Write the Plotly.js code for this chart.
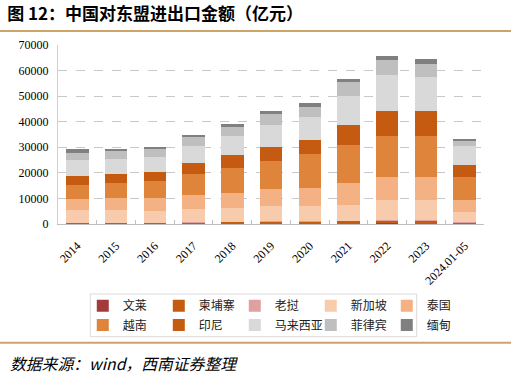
<!DOCTYPE html>
<html>
<head>
<meta charset="utf-8">
<script src="https://cdn.plot.ly/plotly-3.0.1.min.js"></script>
<style>html,body{margin:0;padding:0;background:#fff;}#chart{width:511px;height:377px;}</style>
</head>
<body>
<div id="chart"></div>
<script>
var years = ['2014','2015','2016','2017','2018','2019','2020','2021','2022','2023','2024.01-05'];
var brunei      = [120, 95, 50, 70, 125, 75, 130, 180, 210, 180, 90];
var cambodia    = [230, 275, 320, 390, 490, 650, 660, 880, 1080, 1040, 480];
var laos        = [220, 175, 155, 205, 230, 270, 250, 280, 380, 490, 230];
var singapore   = [4890, 4950, 4680, 5350, 5480, 6210, 6150, 6060, 7750, 7640, 3900];
var thailand    = [4460, 4700, 5030, 5410, 5800, 6330, 6800, 8460, 9090, 8900, 4700];
var vietnam     = [5140, 5980, 6520, 8190, 9790, 11180, 13270, 14850, 15810, 16190, 8900];
var indonesia   = [3900, 3380, 3550, 4270, 5120, 5510, 5410, 8020, 10060, 9830, 4700];
var malaysia    = [6260, 6060, 5770, 6490, 7190, 8560, 9050, 11400, 13700, 13400, 7400];
var philippines = [2730, 2840, 3140, 3460, 3690, 4210, 4220, 5290, 5900, 5070, 2200];
var myanmar     = [1530, 950, 820, 910, 1010, 1290, 1300, 1200, 1700, 1630, 800];

var series = [
  {name:'文莱', y:brunei, color:'#A33B3B', legend:'legend'},
  {name:'柬埔寨', y:cambodia, color:'#C55A11', legend:'legend'},
  {name:'老挝', y:laos, color:'#E0A0A0', legend:'legend'},
  {name:'新加坡', y:singapore, color:'#F8CBAD', legend:'legend'},
  {name:'泰国', y:thailand, color:'#F4B183', legend:'legend'},
  {name:'越南', y:vietnam, color:'#DE853B', legend:'legend2'},
  {name:'印尼', y:indonesia, color:'#C55A11', legend:'legend2'},
  {name:'马来西亚', y:malaysia, color:'#D9D9D9', legend:'legend2'},
  {name:'菲律宾', y:philippines, color:'#BFBFBF', legend:'legend2'},
  {name:'缅甸', y:myanmar, color:'#808080', legend:'legend2'}
];

var traces = series.map(function(s){
  return {type:'bar', name:s.name, x:years, y:s.y, legend:s.legend,
    marker:{color:s.color, line:{width:0}}, hoverinfo:'name+y'};
});

var cjk = '"Noto Sans CJK SC", sans-serif';
var serif = '"Liberation Serif", "Times New Roman", serif';
var legendCommon = {orientation:'h', xref:'container', yref:'container', xanchor:'left', yanchor:'middle',
  x:0.162, font:{family:cjk, size:12, color:'#222'}, bgcolor:'rgba(0,0,0,0)', borderwidth:0,
  traceorder:'normal', entrywidth:31, entrywidthmode:'pixels', itemclick:false, itemdoubleclick:false};

var layout = {
  width:511, height:377,
  margin:{l:57.6, r:26.6, t:45, b:153},
  paper_bgcolor:'#fff', plot_bgcolor:'#fff',
  barmode:'stack', bargap:0.42,
  showlegend:true,
  title:{text:'图 12：中国对东盟进出口金额（亿元）', font:{family:cjk, size:17, color:'#000', weight:'bold'},
    xref:'container', yref:'container', x:0.014, xanchor:'left', y:1-14/377, yanchor:'middle'},
  xaxis:{type:'category', tickangle:-45, tickfont:{family:serif, size:12, color:'#000'},
    showline:true, linecolor:'#BFBFBF', linewidth:1, ticks:'inside', tickson:'boundaries', ticklen:4,
    tickcolor:'#BFBFBF', showgrid:false, fixedrange:true, ticklabelstandoff:9},
  yaxis:{range:[0,70000], dtick:10000, tickformat:'d', tickfont:{family:serif, size:12, color:'#000'},
    showline:true, linecolor:'#D0D0D0', linewidth:1, showgrid:true, gridcolor:'#C8C8C8', griddash:'dash',
    gridwidth:1, zeroline:false, ticks:'', ticklabelstandoff:6, fixedrange:true},
  legend: Object.assign({}, legendCommon, {y:(377-305.7)/377}),
  legend2: Object.assign({}, legendCommon, {y:(377-325)/377}),
  shapes:[
    {type:'line', xref:'paper', yref:'paper', x0:-0.14, x1:1.07, y0:(224-31)/179, y1:(224-31)/179,
      line:{color:'#CDA468', width:2}},
    {type:'line', xref:'paper', yref:'paper', x0:-0.14, x1:1.07, y0:(224-342.7)/179, y1:(224-342.7)/179,
      line:{color:'#CDA468', width:2}},
    {type:'rect', xref:'paper', yref:'paper', x0:(90-57.6)/426.8, x1:(417-57.6)/426.8,
      y0:(224-294)/179, y1:(224-336.7)/179, line:{color:'#DADADA', width:1}}
  ],
  annotations:[
    {text:'数据来源：wind，西南证券整理', xref:'paper', yref:'paper', x:(8-57.6)/426.8, xanchor:'left',
      y:(224-363)/179, yanchor:'middle', showarrow:false,
      font:{family:cjk, size:15.8, color:'#000', style:'italic'}}
  ]
};

Plotly.newPlot('chart', traces, layout, {displayModeBar:false, staticPlot:true});
</script>
</body>
</html>
